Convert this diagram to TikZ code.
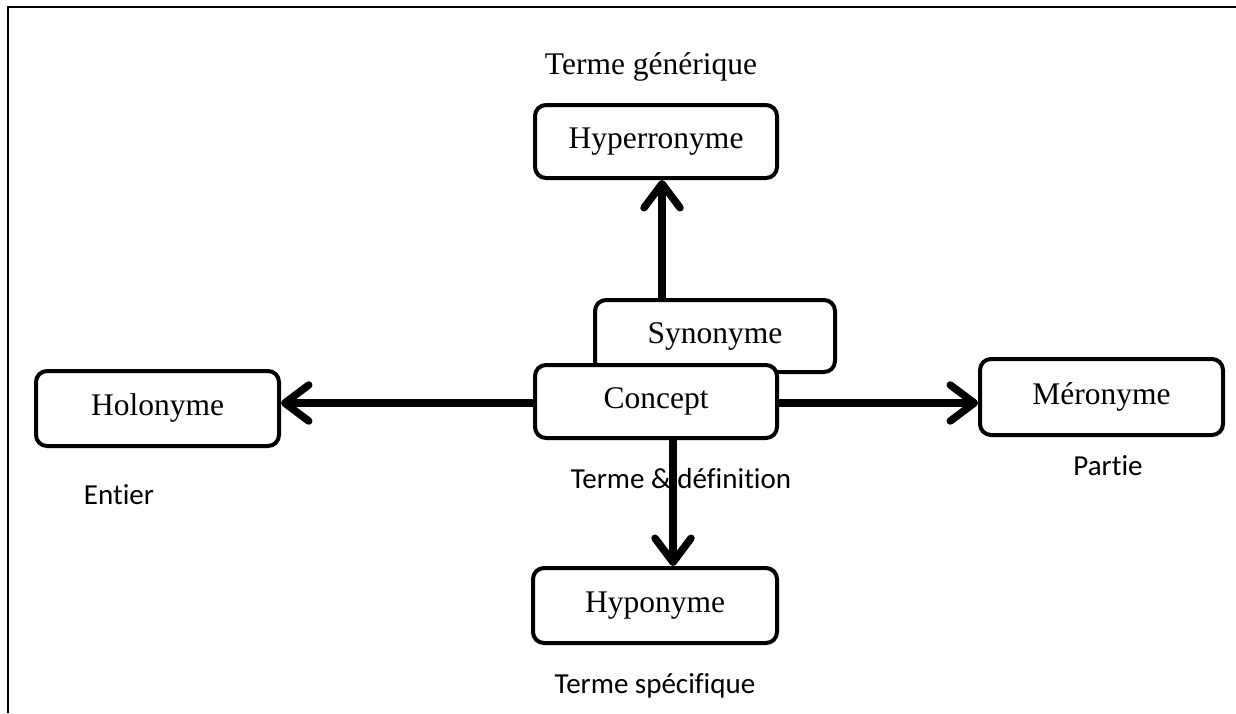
\documentclass[tikz,border=0pt]{standalone}
\usepackage{fontspec}
\setmainfont{Liberation Serif}
\newfontfamily\labelfont[Ligatures=NoCommon]{Carlito}
\usetikzlibrary{arrows.meta,calc}
\tikzset{
  termbox/.style={draw, line width=4pt, rounded corners=11pt, fill=white,
    inner sep=0pt, text height=21pt, text depth=7pt,
    font=\fontsize{31.5}{37}\selectfont},
  caption/.style={inner sep=0pt, font=\fontsize{31.5}{37}\selectfont},
  sanslabel/.style={inner sep=0pt, font=\labelfont\fontsize{29}{35}\selectfont},
  arr/.style={line width=7.5pt, -{Straight Barb[length=24pt, width=36pt, line width=0pt 1, round]}},
  frameline/.style={line width=2.5pt}
}
\begin{document}
\begin{tikzpicture}[x=1pt, y=-1pt]
\useasboundingbox (0,0) rectangle (1236,713);
% frame
\coordinate (ftr) at (1236,7);
\coordinate (ftl) at (8,7);
\coordinate (fbl) at (8,713);
\draw[frameline] (ftr) -- (ftl) -- (fbl);

% caption
\node[caption] (lgen) at (651,67) {Terme générique};

% boxes
\node[termbox, minimum width=242pt, minimum height=73pt] (hyper) at (656,141.5) {Hyperronyme};
\node[termbox, minimum width=240pt, minimum height=72pt] (syn) at (715,336) {Synonyme};
\node[termbox, minimum width=242pt, minimum height=73pt] (concept) at (656,401.5) {Concept};
\node[termbox, minimum width=243pt, minimum height=75pt] (holo) at (157.5,408.5) {Holonyme};
\node[termbox, minimum width=243pt, minimum height=76pt] (mero) at (1101.5,397) {Méronyme};
\node[termbox, minimum width=244pt, minimum height=75pt] (hypo) at (655,605.5) {Hyponyme};

% labels
\node[sanslabel] (ldef) at (681,479) {Terme \& définition};
\node[sanslabel] (lent) at (119,495) {Entier};
\node[sanslabel] (lpart) at (1108,466) {Partie};
\node[sanslabel] (lspec) at (655,686) {Terme spécifique};

% arrows
\draw[arr] ($(hyper.south |- syn.north)+(6,0)$) -- ($(hyper.south)+(6,0)$);
\draw[arr] ($(concept.south)+(17,0)$) -- ($(hypo.north)+(18,0)$);
\draw[arr] ($(concept.west)+(0,1.5)$) -- ($(holo.east |- concept.west)+(0,1.5)$);
\draw[arr] ($(concept.east)+(0,1.5)$) -- ($(mero.west |- concept.east)+(0,1.5)$);
\end{tikzpicture}
\end{document}
